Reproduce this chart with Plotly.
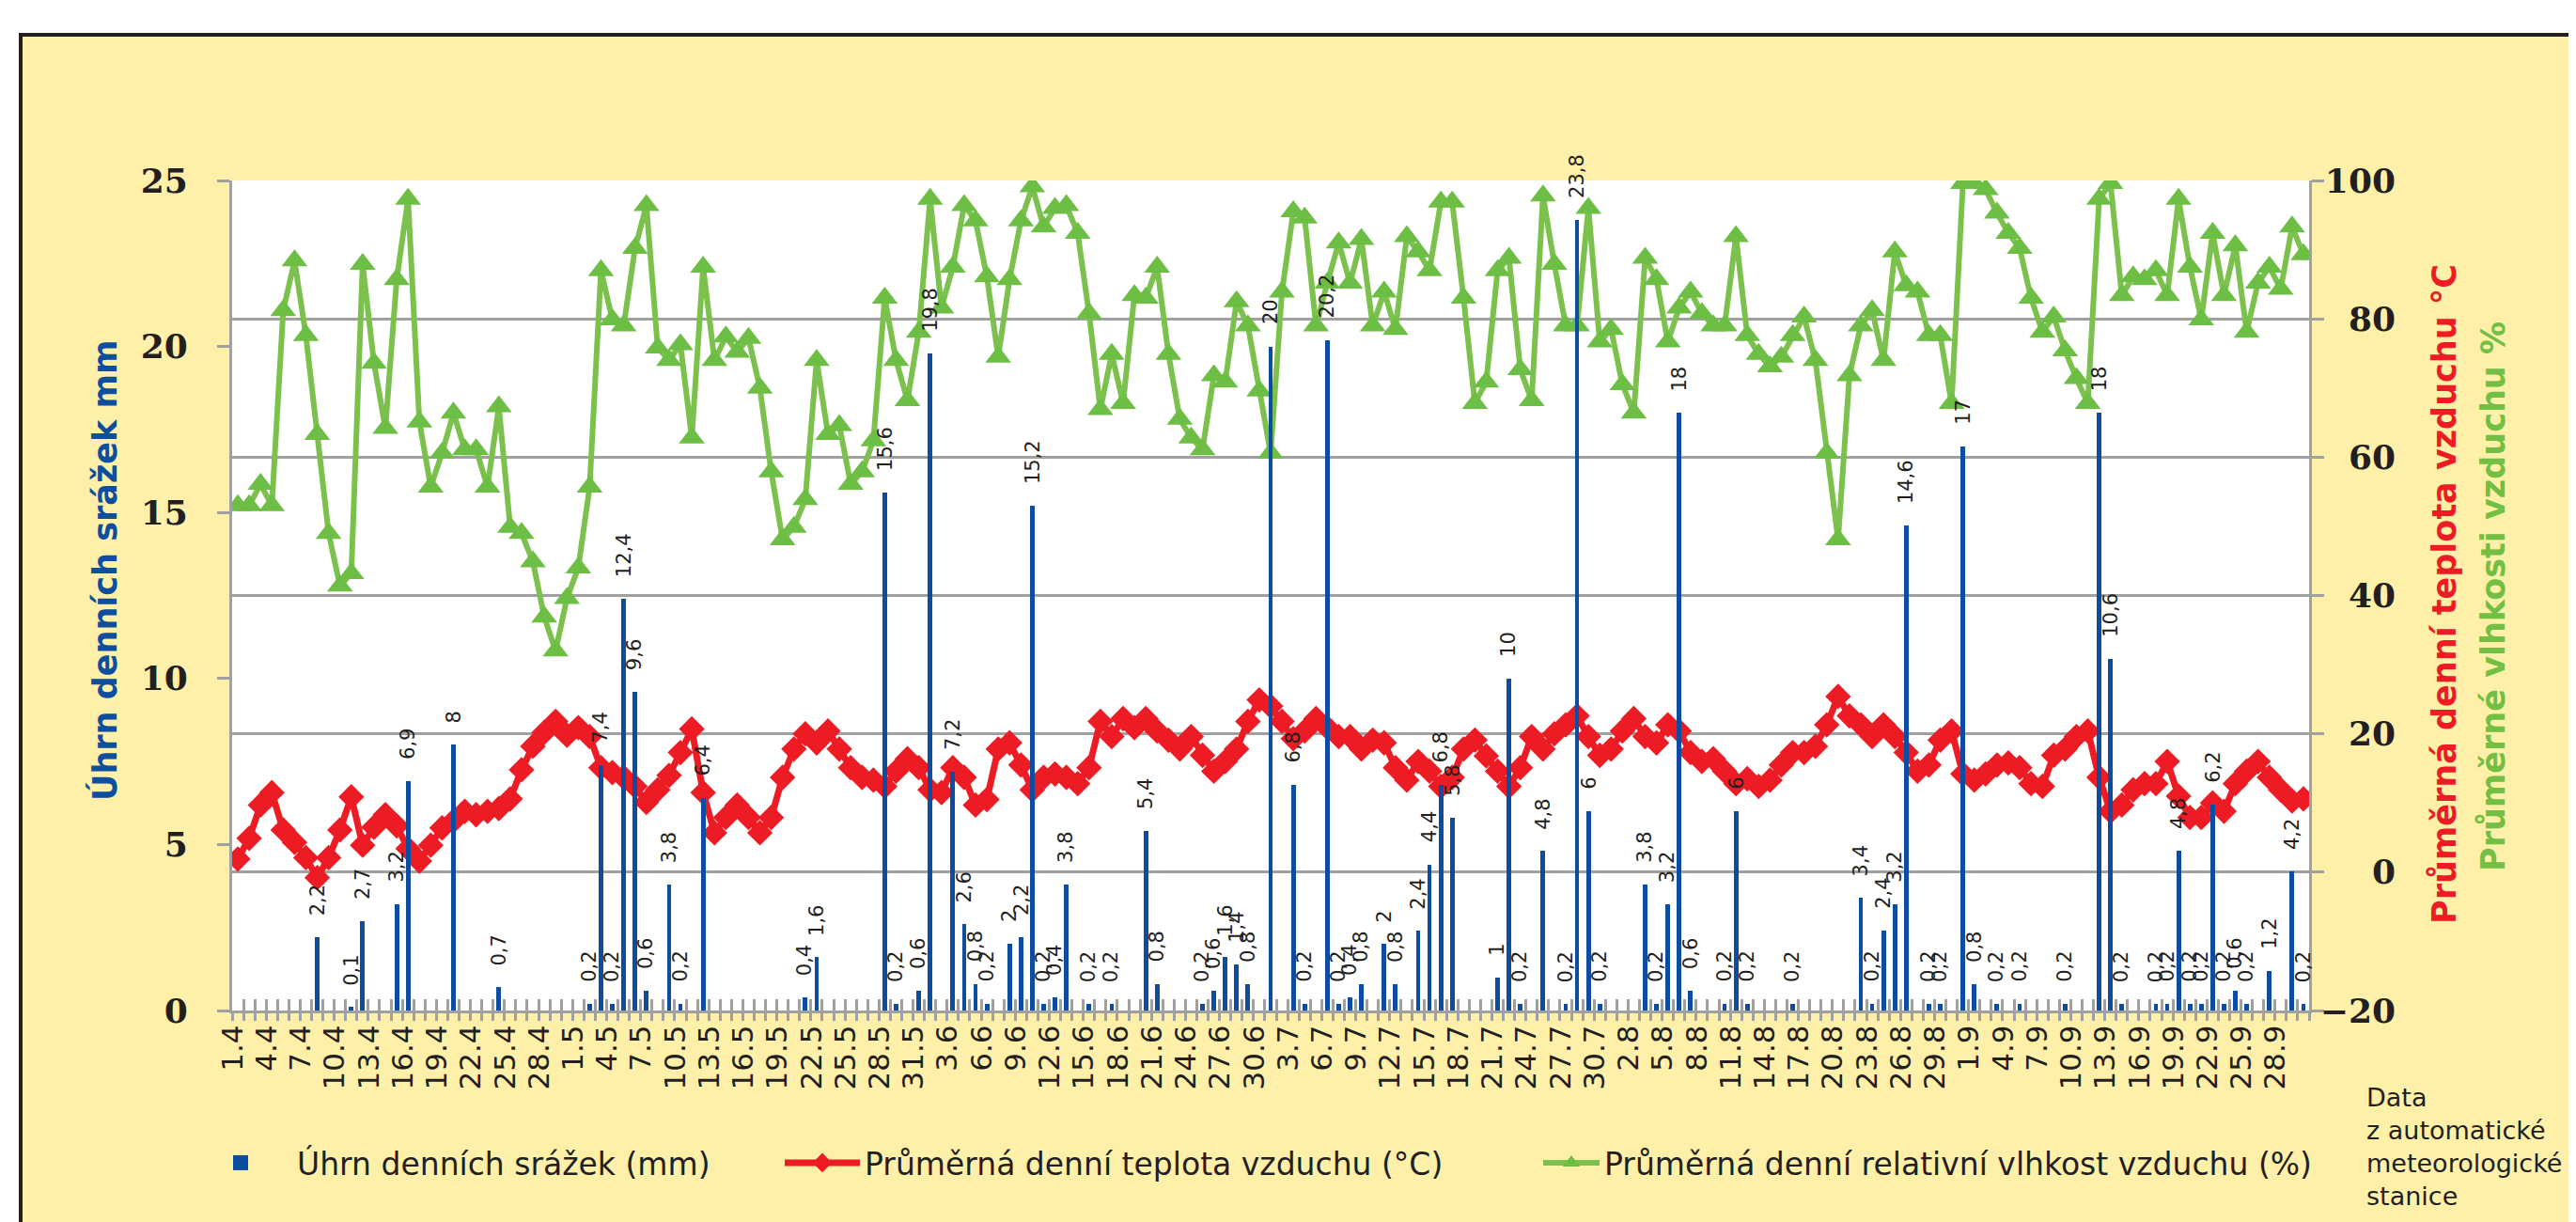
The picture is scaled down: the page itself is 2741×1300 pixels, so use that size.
import plotly.graph_objects as go
import pandas as pd

# ---------------- data ----------------
dates = pd.date_range("2014-04-01", "2014-09-30", freq="D")
day_labels = [f"{d.day}.{d.month}" for d in dates]

precip = [
    0, 0, 0, 0, 0, 0, 0, 2.2, 0, 0,
    0.1, 2.7, 0, 0, 3.2, 6.9, 0, 0, 0, 8,
    0, 0, 0, 0.7, 0, 0, 0, 0, 0, 0,
    0, 0.2, 7.4, 0.2, 12.4, 9.6, 0.6, 0, 3.8, 0.2,
    0, 6.4, 0, 0, 0, 0, 0, 0, 0, 0,
    0.4, 1.6, 0, 0, 0, 0, 0, 15.6, 0.2, 0,
    0.6, 19.8, 0, 7.2, 2.6, 0.8, 0.2, 0, 2, 2.2,
    15.2, 0.2, 0.4, 3.8, 0, 0.2, 0, 0.2, 0, 0,
    5.4, 0.8, 0, 0, 0, 0.2, 0.6, 1.6, 1.4, 0.8,
    0, 20, 0, 6.8, 0.2, 0, 20.2, 0.2, 0.4, 0.8,
    0, 2, 0.8, 0, 2.4, 4.4, 6.8, 5.8, 0, 0,
    0, 1, 10, 0.2, 0, 4.8, 0, 0.2, 23.8, 6,
    0.2, 0, 0, 0, 3.8, 0.2, 3.2, 18, 0.6, 0,
    0, 0.2, 6, 0.2, 0, 0, 0, 0.2, 0, 0,
    0, 0, 0, 3.4, 0.2, 2.4, 3.2, 14.6, 0, 0.2,
    0.2, 0, 17, 0.8, 0, 0.2, 0, 0.2, 0, 0,
    0, 0.2, 0, 0, 18, 10.6, 0.2, 0, 0, 0.2,
    0.2, 4.8, 0.2, 0.2, 6.2, 0.2, 0.6, 0.2, 0, 1.2,
    0, 4.2, 0.2,
]

temperature = [
    1.9, 4.9, 9.7, 11.5, 6.1, 4.3, 2.1, -0.8, 2.1, 6.1,
    10.9, 3.9, 6.5, 8.3, 6.7, 3.4, 1.6, 3.9, 6.4, 7.4,
    8.8, 8.3, 8.8, 9.2, 10.6, 14.8, 18.2, 20.2, 21.8, 19.8,
    20.9, 19.6, 15.1, 14.4, 13.7, 12.4, 10.1, 11.9, 14.0, 17.3,
    20.7, 11.5, 5.7, 7.9, 9.7, 7.9, 5.7, 7.9, 13.7, 17.8,
    20.0, 18.7, 20.4, 17.8, 15.1, 13.7, 13.3, 12.4, 14.6, 16.4,
    15.1, 11.9, 11.5, 15.1, 13.7, 9.7, 10.5, 17.8, 18.7, 15.5,
    11.9, 13.7, 14.2, 13.7, 12.8, 15.1, 21.8, 19.6, 22.2, 20.9,
    22.2, 20.4, 19.1, 17.8, 19.6, 16.9, 14.6, 16.0, 17.8, 21.8,
    24.9, 24.0, 21.8, 19.3, 20.4, 22.2, 20.9, 19.6, 19.6, 17.8,
    19.1, 18.7, 15.1, 13.3, 16.0, 14.6, 12.4, 13.7, 17.8, 19.1,
    16.8, 14.6, 12.4, 15.1, 19.6, 17.8, 20.0, 21.3, 22.6, 19.6,
    16.9, 17.8, 20.4, 22.2, 19.6, 18.7, 21.3, 20.4, 17.3, 16.0,
    16.4, 14.6, 12.8, 13.5, 12.4, 13.3, 15.5, 17.3, 17.3, 18.2,
    21.3, 25.4, 22.6, 21.3, 19.6, 21.3, 19.6, 17.3, 14.6, 15.5,
    19.1, 20.4, 14.2, 13.3, 14.2, 15.5, 15.8, 15.1, 12.8, 12.4,
    16.9, 17.8, 19.6, 20.4, 13.7, 8.8, 9.7, 11.9, 12.8, 12.8,
    16.0, 11.0, 7.9, 7.9, 10.0, 8.8, 12.8, 14.6, 16.0, 13.7,
    11.9, 10.3, 10.6,
]

humidity = [
    53.0, 53.0, 56.1, 53.0, 81.2, 88.4, 77.6, 63.3, 49.0, 41.4,
    43.2, 87.9, 73.6, 64.2, 85.7, 97.3, 65.1, 55.7, 60.6, 66.4,
    61.1, 61.1, 55.7, 67.3, 49.9, 49.0, 44.9, 36.9, 32.0, 39.6,
    44.0, 55.7, 87.0, 79.9, 79.0, 90.2, 96.4, 75.8, 74.0, 76.3,
    62.8, 87.5, 74.0, 77.4, 75.2, 77.2, 70.0, 57.9, 48.1, 49.9,
    53.9, 74.0, 63.3, 64.6, 56.1, 57.9, 62.4, 83.0, 74.0, 68.2,
    78.1, 97.3, 81.6, 87.5, 96.4, 94.2, 86.1, 74.5, 85.7, 94.2,
    99.1, 93.3, 96.0, 96.4, 92.4, 80.8, 66.9, 74.9, 67.8, 83.4,
    83.0, 87.5, 74.9, 65.5, 62.8, 61.1, 71.8, 70.9, 82.5, 79.0,
    69.6, 60.6, 83.9, 95.5, 94.6, 79.0, 85.2, 91.0, 85.2, 91.5,
    79.0, 83.9, 78.5, 91.9, 89.7, 87.0, 96.9, 96.9, 83.0, 67.8,
    70.9, 87.0, 88.8, 72.7, 68.2, 97.8, 87.9, 79.0, 79.0, 96.0,
    76.7, 78.5, 70.5, 66.4, 88.8, 85.7, 76.7, 81.6, 83.9, 80.8,
    79.0, 79.0, 91.9, 77.6, 74.9, 73.1, 74.5, 77.6, 80.3, 74.0,
    60.6, 48.1, 71.8, 79.0, 81.2, 74.0, 89.7, 84.8, 83.9, 77.6,
    77.6, 67.8, 99.6, 99.6, 98.7, 95.3, 92.4, 90.2, 83.0, 78.1,
    80.3, 75.4, 71.4, 67.8, 97.3, 99.6, 83.4, 86.1, 85.7, 87.0,
    83.4, 97.3, 87.5, 79.9, 92.4, 83.4, 90.6, 78.1, 85.2, 87.5,
    84.3, 93.3, 89.3,
]

left_ticks = [0, 5, 10, 15, 20, 25]
right_ticks = [-20, 0, 20, 40, 60, 80, 100]
right_ticktext = ["−20", "0", "20", "40", "60", "80", "100"]

# ---------------- layout geometry / styles ----------------
OFF = 8                     # page body margin of the html page
W, H = 2741 - OFF, 1300 - OFF
L = 247 - OFF
T = 192 - OFF
PLOT_RIGHT = 2457 - OFF
PLOT_BOTTOM = 1075 - OFF
R_M = 181
PW = W - L - R_M
PH = PLOT_BOTTOM - T
B = H - PLOT_BOTTOM
XDOM = (PLOT_RIGHT - L) / PW


def px_x(sx):
    """screen x (px) -> paper x"""
    return (sx - OFF - L) / PW


def px_y(sy):
    """screen y (px) -> paper y"""
    return (PLOT_BOTTOM - (sy - OFF)) / PH


YELLOW = "#FFF0A9"
BLUE = "#0C4DA2"
RED = "#ED1C24"
GREEN_LINE = "#7CC14E"
GREEN_MARK = "#6DBE45"
GRAY = "#A0A0A0"
TXT = "#231F20"

n = len(day_labels)
xi = list(range(n))

fig = go.Figure()

fig.add_trace(go.Scatter(
    x=xi, y=temperature, name="Průměrná denní teplota vzduchu (°C)",
    mode="lines+markers", xaxis="x", yaxis="y",
    line=dict(color=RED, width=7),
    marker=dict(symbol="diamond", size=21, color=RED),
    legend="legend2",
))
fig.add_trace(go.Scatter(
    x=xi, y=humidity, name="Průměrná denní relativní vlhkost vzduchu (%)",
    mode="lines+markers", xaxis="x", yaxis="y",
    line=dict(color=GREEN_LINE, width=6),
    marker=dict(symbol="triangle-up", size=24, color=GREEN_MARK),
    legend="legend3",
))
fig.add_trace(go.Bar(
    x=xi, y=[v if v > 0 else None for v in precip],
    name="Úhrn denních srážek (mm)", xaxis="x", yaxis="y2",
    marker=dict(color=BLUE, line=dict(width=0)), width=0.4,
    showlegend=False,
))
# legend entry for the bars (square swatch)
fig.add_trace(go.Scatter(
    x=[None], y=[None], xaxis="x", yaxis="y2", mode="markers",
    name="Úhrn denních srážek (mm)",
    marker=dict(symbol="square", size=22, color=BLUE),
    legend="legend", hoverinfo="skip",
))
# helper trace so that the extra tick-mark / tick-label axes are drawn
fig.add_trace(go.Scatter(
    x=xi, y=humidity, xaxis="x2", yaxis="y3", mode="lines",
    line=dict(width=0, color="rgba(0,0,0,0)"), showlegend=False, hoverinfo="skip",
))

# data labels for precipitation
annotations = []
for i, v in enumerate(precip):
    if v > 0:
        annotations.append(dict(
            x=i, y=v, xref="x", yref="y2", text=f"{v:g}".replace(".", ","),
            textangle=-90, showarrow=False, xanchor="center", yanchor="bottom",
            yshift=21, font=dict(family="DejaVu Sans", size=21, color=TXT),
        ))

annotations.append(dict(
    x=px_x(111), y=px_y(607), xref="paper", yref="paper",
    text="Úhrn denních srážek mm", textangle=-90, showarrow=False,
    xanchor="center", yanchor="middle",
    font=dict(family="DejaVu Sans", size=35, weight="bold", color="#0D4F9E"),
))
annotations.append(dict(
    x=px_x(2601), y=px_y(632), xref="paper", yref="paper",
    text="Průměrná denní teplota vzduchu °C", textangle=-90, showarrow=False,
    xanchor="center", yanchor="middle",
    font=dict(family="DejaVu Sans", size=35, weight="bold", color=RED),
))
annotations.append(dict(
    x=px_x(2653), y=px_y(635), xref="paper", yref="paper",
    text="Průměrné vlhkosti vzduchu %", textangle=-90, showarrow=False,
    xanchor="center", yanchor="middle",
    font=dict(family="DejaVu Sans", size=35, weight="bold", color="#72BF44"),
))
annotations.append(dict(
    x=px_x(2516), y=px_y(1150), xref="paper", yref="paper",
    text="Data<br>z automatické<br>meteorologické<br>stanice", showarrow=False,
    xanchor="left", yanchor="top", align="left",
    font=dict(family="DejaVu Sans", size=27, color=TXT),
))

tick_font = dict(family="DejaVu Serif", size=36, weight="bold", color=TXT)
boundaries = [i - 0.5 for i in range(n + 1)]

legend_common = dict(
    orientation="h", yanchor="middle", xanchor="left", y=px_y(1237),
    bgcolor="rgba(0,0,0,0)", font=dict(family="DejaVu Sans", size=33, color=TXT),
)

fig.update_layout(
    width=W, height=H,
    margin=dict(l=L, r=R_M, t=T, b=B, autoexpand=False),
    paper_bgcolor=YELLOW, plot_bgcolor="white",
    bargap=0,
    xaxis=dict(
        domain=[0, XDOM], range=[-0.5, n - 0.5], anchor="y",
        tickmode="array", tickvals=[i - 0.45 for i in range(0, n, 3)],
        ticktext=day_labels[::3], tickangle=-90, ticks="",
        tickfont=dict(family="DejaVu Sans", size=31, color=TXT),
        showline=True, linecolor=GRAY, linewidth=3,
        showgrid=False, zeroline=False,
        minor=dict(tickmode="array", tickvals=boundaries, ticks="outside",
                   ticklen=8, tickwidth=3, tickcolor=GRAY, showgrid=False),
    ),
    xaxis2=dict(
        domain=[0, XDOM], range=[-0.5, n - 0.5], anchor="y", overlaying="x",
        side="bottom", tickmode="array", tickvals=boundaries,
        ticks="inside", ticklen=12, tickwidth=3, tickcolor=GRAY,
        showticklabels=False, showline=False, showgrid=False, zeroline=False,
    ),
    yaxis=dict(
        side="right", anchor="x", range=[-20, 100], tickmode="array",
        tickvals=right_ticks, showticklabels=False,
        ticks="outside", ticklen=13, tickwidth=3, tickcolor=GRAY,
        showline=True, linecolor=GRAY, linewidth=3,
        showgrid=True, gridcolor=GRAY, gridwidth=2.5, zeroline=False,
    ),
    yaxis2=dict(
        side="left", anchor="x", overlaying="y", range=[0, 25],
        tickmode="array", tickvals=left_ticks, tickfont=tick_font,
        ticks="outside", ticklen=13, tickwidth=3, tickcolor=GRAY,
        ticklabelstandoff=24,
        showline=True, linecolor=GRAY, linewidth=3,
        showgrid=False, zeroline=False,
    ),
    yaxis3=dict(
        side="right", anchor="free", overlaying="y", position=px_x(2552),
        range=[-20, 100], tickmode="array", tickvals=right_ticks,
        ticktext=right_ticktext, ticklabeloverflow="allow",
        tickfont=tick_font, ticklabelposition="inside", ticks="",
        showline=False, showgrid=False, zeroline=False,
    ),
    legend=dict(legend_common, x=px_x(196), itemwidth=110),
    legend2=dict(legend_common, x=px_x(830), itemwidth=80),
    legend3=dict(legend_common, x=px_x(1637), itemwidth=60),
    annotations=annotations,
    shapes=[
        dict(type="rect", xref="paper", yref="paper", x0=px_x(-10), x1=px_x(2760),
             y0=px_y(36), y1=px_y(-10), fillcolor="white", line=dict(width=0), layer="below"),
        dict(type="rect", xref="paper", yref="paper", x0=px_x(-10), x1=px_x(22),
             y0=px_y(1320), y1=px_y(-10), fillcolor="white", line=dict(width=0), layer="below"),
        dict(type="line", xref="paper", yref="paper", x0=px_x(21), x1=px_x(2760),
             y0=px_y(37), y1=px_y(37), line=dict(color="#231F20", width=4)),
        dict(type="line", xref="paper", yref="paper", x0=px_x(22), x1=px_x(22),
             y0=px_y(35), y1=px_y(1320), line=dict(color="#231F20", width=4)),
    ],
    showlegend=True,
)

fig.write_html("out.html")
